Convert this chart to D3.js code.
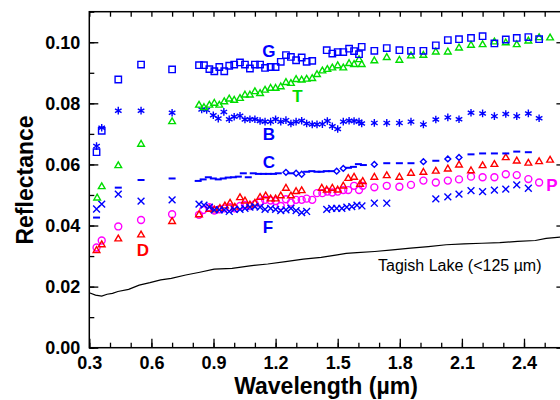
<!DOCTYPE html>
<html>
<head>
<meta charset="utf-8">
<script src="https://cdn.jsdelivr.net/npm/d3@7"></script>
<style>
    body { margin: 0; background: #fff; }
    text { font-family: "Liberation Sans", Arial, sans-serif; }
</style>
</head>
<body>
<div class="wrapper"></div>
<script>
// axis ticks
let xTicks = [0.3, 0.6, 0.9, 1.2, 1.5, 1.8, 2.1, 2.4];
let xMinor = d3.range(0.3, 2.61, 0.1);
let yTicks = [0, 0.02, 0.04, 0.06, 0.08, 0.10];
let yMinor = d3.range(0, 0.111, 0.01);

// spectra, [wavelength um, reflectance]
let seriesG = [
    [0.335, 0.064], [0.36, 0.071], [0.44, 0.0878], [0.55, 0.0927], [0.70, 0.0911],
    [0.83, 0.0925], [0.854, 0.0925], [0.88, 0.0912], [0.904, 0.0905], [0.928, 0.0919], [0.952, 0.0905],
    [0.976, 0.0923], [1.0, 0.0927], [1.028, 0.0934], [1.052, 0.0927], [1.076, 0.0914], [1.10, 0.0927],
    [1.125, 0.0927], [1.149, 0.0916], [1.176, 0.0919], [1.20, 0.0919], [1.225, 0.0936], [1.25, 0.0958],
    [1.274, 0.0952], [1.299, 0.0941], [1.326, 0.095], [1.35, 0.0936], [1.377, 0.0939],
    [1.447, 0.0974], [1.474, 0.0963], [1.50, 0.0968], [1.527, 0.0968], [1.555, 0.0979], [1.579, 0.0971],
    [1.603, 0.0961], [1.616, 0.0985],
    [1.677, 0.0972], [1.737, 0.0981], [1.798, 0.0974], [1.854, 0.0972], [1.914, 0.0972], [1.974, 0.099],
    [2.032, 0.1007], [2.086, 0.101], [2.144, 0.1014], [2.20, 0.102], [2.257, 0.0996], [2.312, 0.1009],
    [2.365, 0.1014], [2.421, 0.1017], [2.473, 0.101]
];
let seriesT = [
    [0.338, 0.049], [0.36, 0.0527], [0.44, 0.0596], [0.55, 0.0666], [0.70, 0.074],
    [0.83, 0.0794], [0.854, 0.0786], [0.88, 0.0794], [0.904, 0.080], [0.928, 0.0794], [0.952, 0.0805],
    [0.976, 0.0814], [1.0, 0.081], [1.028, 0.0816], [1.052, 0.0827], [1.076, 0.0827], [1.10, 0.0838],
    [1.125, 0.0832], [1.149, 0.0843], [1.176, 0.0849], [1.20, 0.0849], [1.225, 0.0854], [1.25, 0.0868],
    [1.274, 0.0865], [1.299, 0.0878], [1.326, 0.0876], [1.35, 0.0879], [1.377, 0.0881], [1.40, 0.0894],
    [1.426, 0.0906], [1.45, 0.0911], [1.474, 0.0916], [1.50, 0.0923], [1.527, 0.0916], [1.555, 0.093],
    [1.579, 0.0927], [1.603, 0.0943], [1.616, 0.0927],
    [1.677, 0.0939], [1.737, 0.095], [1.798, 0.0941], [1.854, 0.0955], [1.914, 0.0957], [1.974, 0.0968],
    [2.032, 0.0968], [2.086, 0.0981], [2.144, 0.099], [2.20, 0.0992], [2.257, 0.1001], [2.312, 0.0998],
    [2.365, 0.0992], [2.421, 0.1004], [2.473, 0.1015], [2.526, 0.1014]
];
let seriesB = [
    [0.335, 0.066], [0.36, 0.072], [0.44, 0.0776], [0.55, 0.0776], [0.70, 0.0769],
    [0.843, 0.078], [0.867, 0.0778], [0.899, 0.0761], [0.923, 0.075], [0.95, 0.0772], [0.976, 0.0748],
    [1.0, 0.0756], [1.028, 0.0759], [1.052, 0.0747], [1.076, 0.0748], [1.10, 0.0748], [1.125, 0.0742],
    [1.149, 0.074], [1.176, 0.074], [1.20, 0.0748], [1.225, 0.074], [1.25, 0.0745], [1.274, 0.0734],
    [1.299, 0.074], [1.326, 0.0743], [1.35, 0.0734], [1.377, 0.0731], [1.40, 0.0731], [1.426, 0.0732],
    [1.45, 0.0742], [1.474, 0.0725], [1.50, 0.0716], [1.527, 0.074], [1.555, 0.0743], [1.579, 0.0742],
    [1.603, 0.074], [1.616, 0.0734],
    [1.677, 0.0736], [1.737, 0.0736], [1.798, 0.0736], [1.854, 0.074], [1.914, 0.0731], [1.974, 0.0747],
    [2.032, 0.0754], [2.086, 0.0748], [2.144, 0.0769], [2.20, 0.0767], [2.257, 0.0758], [2.312, 0.0765],
    [2.365, 0.0758], [2.421, 0.0767], [2.473, 0.0751]
];
let seriesCdash = [
    [0.335, 0.0426], [0.44, 0.0524], [0.55, 0.0549], [0.70, 0.0554],
    [0.826, 0.0546], [0.85, 0.0551], [0.875, 0.0558], [0.899, 0.0554], [0.923, 0.0551], [0.947, 0.0554],
    [0.971, 0.0557], [0.996, 0.0558], [1.02, 0.056], [1.044, 0.0571], [1.068, 0.0558], [1.092, 0.0571],
    [1.117, 0.0569], [1.141, 0.0569], [1.165, 0.0569], [1.19, 0.0569], [1.213, 0.0571], [1.274, 0.0571],
    [1.35, 0.0576], [1.375, 0.0578], [1.40, 0.0576], [1.42, 0.0576], [1.445, 0.0578], [1.47, 0.0578],
    [1.552, 0.0589], [1.576, 0.0592], [1.60, 0.0601], [1.624, 0.0598],
    [1.737, 0.0604], [1.798, 0.0604], [1.854, 0.0604], [1.974, 0.0612], [2.144, 0.0633], [2.20, 0.0636],
    [2.257, 0.0636], [2.312, 0.0636], [2.365, 0.0642], [2.421, 0.064]
];
let seriesCdiamond = [
    [1.25, 0.0574], [1.299, 0.0571], [1.326, 0.0568], [1.495, 0.0578], [1.527, 0.0587],
    [1.677, 0.060], [1.914, 0.0609], [2.032, 0.0618], [2.086, 0.0623]
];
let seriesF = [
    [0.335, 0.0454], [0.36, 0.047], [0.44, 0.0503], [0.55, 0.048], [0.70, 0.0484],
    [0.83, 0.047], [0.854, 0.0467], [0.88, 0.046], [0.904, 0.0451], [0.928, 0.0451], [0.952, 0.0451],
    [0.976, 0.0446], [1.0, 0.0453], [1.028, 0.0453], [1.052, 0.0456], [1.076, 0.046], [1.10, 0.0462],
    [1.125, 0.046], [1.149, 0.0453], [1.176, 0.0456], [1.20, 0.0453], [1.225, 0.0449], [1.25, 0.0451],
    [1.274, 0.0456], [1.299, 0.0449], [1.326, 0.0442], [1.35, 0.0446],
    [1.447, 0.0453], [1.471, 0.0456], [1.495, 0.0456], [1.52, 0.0456], [1.544, 0.046], [1.568, 0.0462],
    [1.593, 0.0467], [1.617, 0.0464],
    [1.677, 0.0473], [1.737, 0.0473], [1.974, 0.0487], [2.032, 0.0494], [2.086, 0.0503], [2.144, 0.0514],
    [2.20, 0.0511], [2.257, 0.0516], [2.312, 0.0519], [2.365, 0.0533], [2.421, 0.0522]
];
let seriesD = [
    [0.335, 0.0318], [0.36, 0.0337], [0.44, 0.0356], [0.55, 0.0369], [0.70, 0.0413],
    [0.83, 0.0435], [0.88, 0.0453], [0.904, 0.0451], [0.931, 0.0456], [0.955, 0.0464], [0.98, 0.0473],
    [1.003, 0.046], [1.028, 0.0491], [1.052, 0.048], [1.076, 0.0467], [1.10, 0.0473], [1.125, 0.0492],
    [1.152, 0.0497], [1.176, 0.0487], [1.20, 0.0487], [1.225, 0.0497], [1.25, 0.0522], [1.274, 0.0497],
    [1.299, 0.0511], [1.326, 0.0514],
    [1.423, 0.0522], [1.447, 0.0516], [1.474, 0.0522], [1.50, 0.0516], [1.527, 0.0529], [1.551, 0.0554],
    [1.579, 0.0558], [1.608, 0.0535], [1.621, 0.0544],
    [1.677, 0.0558], [1.737, 0.0563], [1.798, 0.0558], [1.854, 0.0571], [1.914, 0.0574], [1.974, 0.0578],
    [2.032, 0.0585], [2.086, 0.0598], [2.144, 0.0579], [2.20, 0.0596], [2.257, 0.060], [2.312, 0.0622],
    [2.365, 0.0611], [2.421, 0.0604], [2.473, 0.0609], [2.526, 0.0614]
];
let seriesP = [
    [0.335, 0.0328], [0.36, 0.0351], [0.44, 0.0397], [0.55, 0.0418], [0.70, 0.0437],
    [0.83, 0.0435], [0.85, 0.0451], [0.88, 0.046], [0.904, 0.0449], [0.928, 0.0453], [0.952, 0.0456],
    [0.98, 0.046], [1.003, 0.0456], [1.028, 0.0464], [1.052, 0.0467], [1.076, 0.0464], [1.10, 0.047],
    [1.125, 0.0478], [1.149, 0.0484], [1.176, 0.0482], [1.20, 0.048], [1.225, 0.0464], [1.25, 0.0486],
    [1.274, 0.0475], [1.299, 0.0484], [1.326, 0.0484], [1.35, 0.0488], [1.377, 0.0484], [1.40, 0.0506],
    [1.426, 0.0506], [1.45, 0.0511], [1.474, 0.0508], [1.50, 0.0511], [1.527, 0.0516], [1.551, 0.0516],
    [1.579, 0.053], [1.603, 0.0516], [1.621, 0.053],
    [1.677, 0.0525], [1.737, 0.053], [1.798, 0.0527], [1.854, 0.0533], [1.914, 0.0547], [1.974, 0.0541],
    [2.032, 0.0547], [2.086, 0.0551], [2.144, 0.056], [2.20, 0.0558], [2.257, 0.0558], [2.312, 0.0568],
    [2.365, 0.0565], [2.421, 0.0552], [2.473, 0.0541]
];
let tagishLake = [
    [0.30, 0.018], [0.33, 0.0172], [0.36, 0.0169], [0.386, 0.0175], [0.412, 0.0178], [0.438, 0.0184],
    [0.49, 0.0191], [0.541, 0.0205], [0.593, 0.0213], [0.645, 0.0222], [0.696, 0.0227], [0.766, 0.0238],
    [0.834, 0.0247], [0.903, 0.0257], [0.99, 0.026], [1.076, 0.0268], [1.162, 0.0274], [1.248, 0.0282],
    [1.334, 0.029], [1.42, 0.0296], [1.498, 0.0304], [1.541, 0.0309], [1.593, 0.0311], [1.679, 0.0315],
    [1.765, 0.032], [1.852, 0.0326], [1.938, 0.0331], [2.024, 0.0337], [2.11, 0.034], [2.197, 0.0342],
    [2.283, 0.0344], [2.369, 0.0348], [2.455, 0.0351], [2.507, 0.0358], [2.60, 0.0364]
];

let labelText = ["G", "T", "B", "C", "F", "D", "P"];
let labelColor = ["#0000ff", "#00dd00", "#0000ff", "#0000ff", "#0000ff", "#ff0000", "#ff00ff"];
let labelAt = [[1.168, 0.0951], [1.306, 0.0806], [1.168, 0.068], [1.168, 0.0587], [1.163, 0.0375], [0.559, 0.030], [2.535, 0.0513]];

let width = 560;
let height = 400;
let plotLeft = 89.3, plotRight = 565.4, plotTop = 11.7, plotBottom = 347.7;

let x = d3.scaleLinear().domain([0.3, 2.6]).range([plotLeft, plotRight]);
let y = d3.scaleLinear().domain([0, 0.11]).range([plotBottom, plotTop]);

let svg = d3.select(".wrapper")
    .append("svg")
    .attr("width", width)
    .attr("height", height);

// minor ticks first (no labels), then major with labels
function minorAxis(axis, transform) {
    svg.append("g")
        .classed("minor", true)
        .attr("transform", transform)
        .call(axis.tickSize(-5).tickFormat(""));
}

minorAxis(d3.axisBottom(x).tickValues(xMinor), "translate(0," + plotBottom + ")");
minorAxis(d3.axisTop(x).tickValues(xMinor), "translate(0," + plotTop + ")");
minorAxis(d3.axisLeft(y).tickValues(yMinor), "translate(" + plotLeft + ",0)");
minorAxis(d3.axisRight(y).tickValues(yMinor), "translate(" + plotRight + ",0)");

svg.append("g")
    .attr("transform", "translate(0," + plotBottom + ")")
    .call(d3.axisBottom(x).tickValues(xTicks).tickSize(-9).tickPadding(8.5).tickFormat(d3.format(".1f")));
svg.append("g")
    .attr("transform", "translate(" + plotLeft + ",0)")
    .call(d3.axisLeft(y).tickValues(yTicks).tickSize(-9).tickPadding(9).tickFormat(d3.format(".2f")));
svg.append("g")
    .classed("minor", true)
    .attr("transform", "translate(" + plotRight + ",0)")
    .call(d3.axisRight(y).tickValues(yTicks).tickSize(-9).tickFormat(""));

svg.selectAll(".minor .tick text").remove();
svg.selectAll(".domain").remove();
svg.selectAll(".tick line").attr("stroke", "#000").attr("stroke-width", 1.3);
svg.selectAll(".tick text")
    .attr("fill", "#000")
    .style("font-size", "18px")
    .style("font-weight", "bold");

svg.append("rect")
    .attr("x", plotLeft)
    .attr("y", plotTop)
    .attr("width", plotRight - plotLeft)
    .attr("height", plotBottom - plotTop)
    .attr("fill", "none")
    .attr("stroke", "#000")
    .attr("stroke-width", 1.5);

// Tagish Lake
svg.append("path")
    .datum(tagishLake)
    .attr("fill", "none")
    .attr("stroke", "#000")
    .attr("stroke-width", 1.2)
    .attr("d", d3.line().x(function (d) {return x(d[0])}).y(function (d) {return y(d[1])}));

function drawMarkers(data, type, size, color) {
    svg.append("g")
        .selectAll("path")
        .data(data)
        .enter()
        .append("path")
        .attr("transform", function (d) {return "translate(" + x(d[0]) + "," + y(d[1]) + ")"})
        .attr("d", d3.symbol().type(type).size(size))
        .attr("fill", "none")
        .attr("stroke", color)
        .attr("stroke-width", 1.4);
}

function drawDashes(data, color) {
    svg.append("g")
        .selectAll("line")
        .data(data)
        .enter()
        .append("line")
        .attr("x1", function (d) {return x(d[0]) - 3.5})
        .attr("x2", function (d) {return x(d[0]) + 3.5})
        .attr("y1", function (d) {return y(d[1])})
        .attr("y2", function (d) {return y(d[1])})
        .attr("stroke", color)
        .attr("stroke-width", 2);
}

drawMarkers(seriesP, d3.symbolCircle, 38, "#ff00ff");
drawMarkers(seriesD, d3.symbolTriangle2, 32, "#ff0000");
drawMarkers(seriesF, d3.symbolTimes, 32, "#0000ff");
drawDashes(seriesCdash, "#0000ff");
drawMarkers(seriesCdiamond, d3.symbolDiamond2, 22, "#0000ff");
drawMarkers(seriesB, d3.symbolAsterisk, 40, "#0000ff");
drawMarkers(seriesT, d3.symbolTriangle2, 32, "#00dd00");
drawMarkers(seriesG, d3.symbolSquare2, 52, "#0000ff");

svg.selectAll(".label")
    .data(labelText)
    .enter()
    .append("text")
    .classed("label", true)
    .attr("x", function (d, i) {return x(labelAt[i][0])})
    .attr("y", function (d, i) {return y(labelAt[i][1])})
    .attr("text-anchor", "middle")
    .attr("fill", function (d, i) {return labelColor[i]})
    .style("font-size", "17px")
    .style("font-weight", "bold")
    .text(function (d) {return d});

svg.append("text")
    .attr("x", 378)
    .attr("y", 270.7)
    .style("font-size", "16px")
    .attr("fill", "#000")
    .text("Tagish Lake (<125 \u00b5m)");

svg.append("text")
    .attr("x", 326)
    .attr("y", 394)
    .attr("text-anchor", "middle")
    .style("font-size", "23px")
    .style("font-weight", "bold")
    .text("Wavelength (\u00b5m)");

svg.append("text")
    .attr("transform", "translate(33,180) rotate(-90)")
    .attr("text-anchor", "middle")
    .style("font-size", "23px")
    .style("font-weight", "bold")
    .text("Reflectance");
</script>
</body>
</html>
